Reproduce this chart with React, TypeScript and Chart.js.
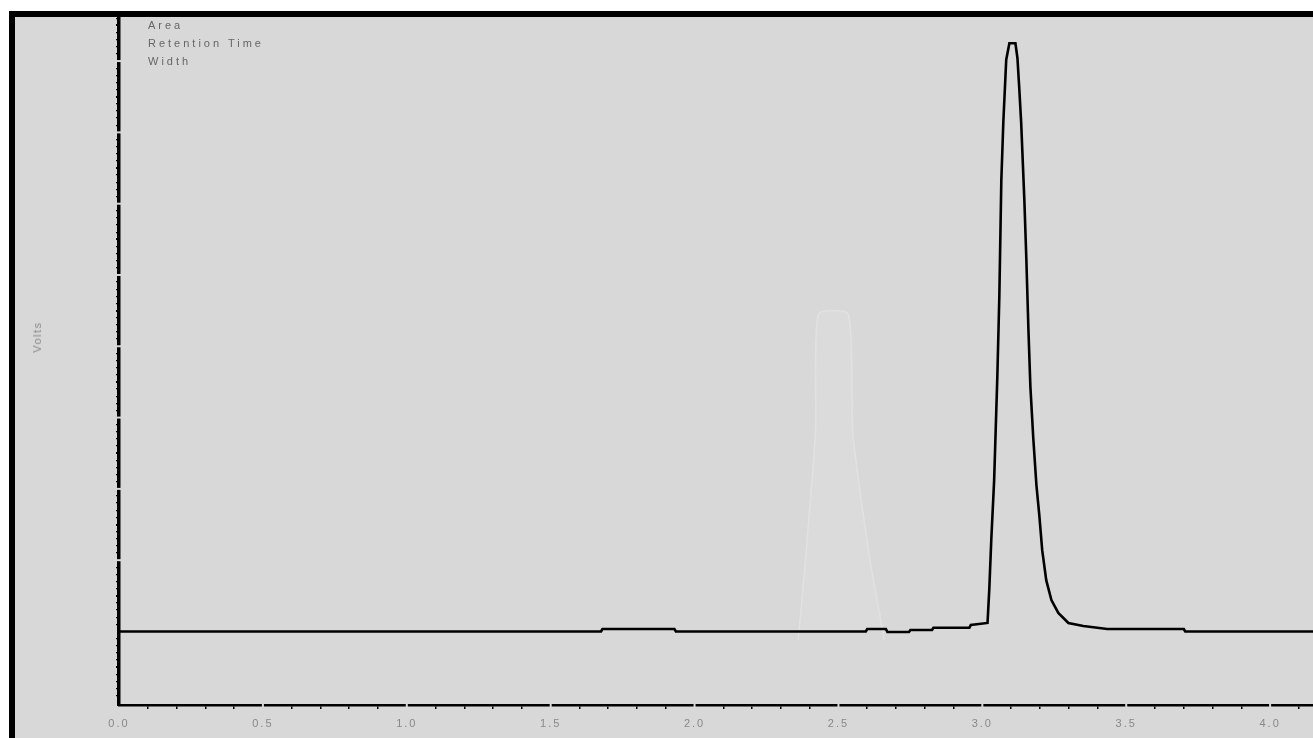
import { useEffect, useRef } from 'react';
import { Chart, registerables } from 'chart.js';

Chart.register(...registerables);

const BG = '#d8d8d8';
const FONT = '"Liberation Sans", Arial, sans-serif';

// Retention time (min) and detector signal (arbitrary volts units) of the main trace
const mainTimes = [
  0.0, 1.675, 1.68, 1.93, 1.935, 2.595, 2.6, 2.665, 2.67, 2.745, 2.75, 2.825, 2.83, 2.955, 2.96,
  3.018, 3.024, 3.031, 3.041, 3.052, 3.059, 3.066, 3.073, 3.083, 3.094, 3.101, 3.115, 3.122,
  3.128, 3.135, 3.146, 3.153, 3.16, 3.167, 3.177, 3.188, 3.198, 3.208, 3.222, 3.24, 3.264,
  3.299, 3.351, 3.434, 3.7, 3.705, 4.149,
];
const mainVolts = [
  0.0, 0.0, 0.035, 0.035, 0.0, 0.0, 0.035, 0.035, -0.007, -0.007, 0.02, 0.02, 0.053, 0.053, 0.09,
  0.12, 0.58, 1.28, 2.12, 3.56, 4.69, 6.33, 7.15, 8.02, 8.25, 8.25, 8.25, 8.04,
  7.64, 7.13, 6.05, 5.21, 4.25, 3.43, 2.71, 2.05, 1.63, 1.14, 0.72, 0.44, 0.26,
  0.12, 0.077, 0.035, 0.035, 0.0, 0.0,
];

// Faint ghost trace behind the main peak
const ghostTimes = [2.36, 2.385, 2.42, 2.43, 2.535, 2.55, 2.61, 2.66];
const ghostVolts = [-0.12, 1.0, 2.8, 4.45, 4.45, 2.8, 1.0, -0.12];

const xTickLabels = ['0.0', '0.5', '1.0', '1.5', '2.0', '2.5', '3.0', '3.5', '4.0'];
const yMajorValues = [1, 2, 3, 4, 5, 6, 7, 8];
const legendLines = ['Area', 'Retention Time', 'Width'];
const yAxisTitle = 'Volts';

const X_MIN = 0;
const X_MAX = 4.149;
const Y_MIN = -1.031;
const Y_MAX = 8.618;

const isMult = (v: number, step: number) => {
  const r = v / step;
  return Math.abs(r - Math.round(r)) < 1e-6;
};

export default function App() {
  const ref = useRef<HTMLCanvasElement>(null);

  useEffect(() => {
    const spacingPlugin = {
      id: 'spacing',
      beforeDraw(chart: any) {
        (chart.ctx as any).letterSpacing = '2px';
      },
    };
    const gapPlugin = {
      id: 'gaps',
      afterDraw(chart: any) {
        const { ctx, scales, chartArea } = chart;
        ctx.save();
        ctx.fillStyle = BG;
        xTickLabels.forEach((l) => {
          const v = parseFloat(l);
          if (v === 0) return;
          const px = scales.x.getPixelForValue(v);
          ctx.fillRect(px - 1, chartArea.bottom - 2, 2, 5);
        });
        yMajorValues.forEach((v) => {
          const py = scales.y.getPixelForValue(v);
          ctx.fillRect(chartArea.left - 3, py - 1, 5, 2);
        });
        ctx.restore();
      },
    };

    const chart = new Chart(ref.current as HTMLCanvasElement, {
      type: 'line',
      data: {
        datasets: [
          {
            data: mainTimes.map((t, i) => ({ x: t, y: mainVolts[i] })),
            borderColor: '#000',
            borderWidth: 2.6,
            pointRadius: 0,
            tension: 0,
            fill: false,
            order: 0,
          },
          {
            data: ghostTimes.map((t, i) => ({ x: t, y: ghostVolts[i] })),
            borderColor: 'rgba(232,232,232,0.55)',
            backgroundColor: 'rgba(224,224,224,0.45)',
            borderWidth: 1.5,
            pointRadius: 0,
            tension: 0.2,
            fill: 'origin',
            order: 1,
          },
        ],
      },
      options: {
        animation: false,
        responsive: true,
        maintainAspectRatio: false,
        layout: { padding: 0 },
        plugins: {
          legend: { display: false },
          tooltip: { enabled: false },
          title: { display: false },
        },
        scales: {
          x: {
            type: 'linear',
            min: X_MIN,
            max: X_MAX,
            afterFit: (s: any) => {
              s.height = 33;
            },
            border: { display: true, color: '#000', width: 2.5 },
            grid: {
              drawOnChartArea: false,
              drawTicks: true,
              tickLength: 4,
              lineWidth: 1.5,
              color: (c: any) => (c.tick && isMult(c.tick.value, 0.5) ? 'rgba(0,0,0,0)' : '#000'),
            },
            ticks: {
              stepSize: 0.1,
              autoSkip: false,
              maxRotation: 0,
              minRotation: 0,
              includeBounds: false,
              padding: 8,
              color: '#888888',
              font: { family: FONT, size: 11 },
              callback: (v: any) => {
                const n = Number(v);
                const found = xTickLabels.find((l) => Math.abs(parseFloat(l) - n) < 1e-6);
                return found ?? '';
              },
            },
          },
          y: {
            type: 'linear',
            position: 'left',
            min: Y_MIN,
            max: Y_MAX,
            afterFit: (s: any) => {
              s.width = 104;
            },
            border: { display: true, color: '#000', width: 3.5 },
            grid: {
              drawOnChartArea: false,
              drawTicks: true,
              tickLength: 3,
              lineWidth: (c: any) => (c.tick && isMult(c.tick.value, 0.5) ? 2 : 1.3),
              color: (c: any) => (c.tick && isMult(c.tick.value, 1) ? 'rgba(0,0,0,0)' : '#000'),
            },
            ticks: {
              display: false,
              stepSize: 0.1,
              autoSkip: false,
              includeBounds: false,
            },
          },
        },
      } as any,
      plugins: [spacingPlugin, gapPlugin],
    });
    return () => chart.destroy();
  }, []);

  const legendTops = [18.5, 36.5, 54.5];

  return (
    <div style={{ position: 'absolute', left: 0, top: 0, width: 1313, height: 738, background: '#fff', overflow: 'hidden' }}>
      <div style={{ position: 'absolute', left: 9, top: 11, right: 0, bottom: 0, background: '#000' }} />
      <div style={{ position: 'absolute', left: 15, top: 17, right: 0, bottom: 0, background: BG }}>
        <div style={{ position: 'relative', width: 1298, height: 721 }}>
          <canvas ref={ref} />
        </div>
      </div>
      {legendLines.map((l, i) => (
        <div
          key={l}
          style={{
            position: 'absolute',
            left: 148,
            top: legendTops[i],
            fontFamily: FONT,
            fontSize: 11,
            lineHeight: '13px',
            letterSpacing: '3px',
            color: '#666666',
            whiteSpace: 'nowrap',
          }}
        >
          {l}
        </div>
      ))}
      <div
        style={{
          position: 'absolute',
          left: 37,
          top: 337,
          transform: 'translate(-50%, -50%) rotate(-90deg)',
          fontFamily: FONT,
          fontSize: 11,
          letterSpacing: '1.5px',
          color: '#888888',
          whiteSpace: 'nowrap',
        }}
      >
        {yAxisTitle}
      </div>
    </div>
  );
}
